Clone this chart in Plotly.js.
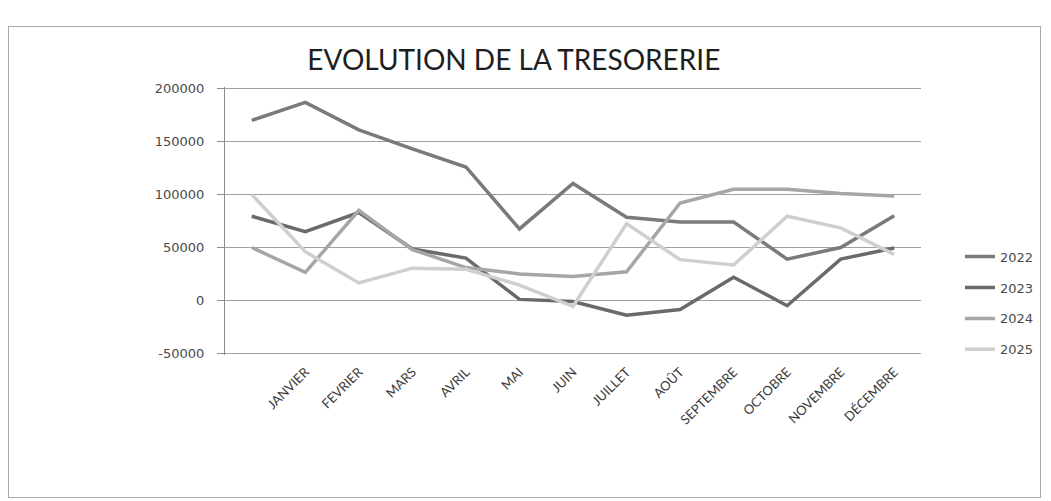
<!DOCTYPE html>
<html>
<head>
<meta charset="utf-8">
<script src="https://cdn.plot.ly/plotly-3.0.1.min.js"></script>
<style>
  html, body { margin: 0; padding: 0; background: #ffffff; }
  #wrap { position: relative; width: 1051px; height: 501px; }
  #chart { position: absolute; left: 0; top: 0; width: 1051px; height: 501px; }
  #frame { position: absolute; left: 8px; top: 26px; width: 1031px; height: 470px; border: 1px solid #a8a8a8; pointer-events: none; }
</style>
</head>
<body>
<div id="wrap">
  <div id="chart"></div>
  <div id="frame"></div>
</div>
<script>
// Categories (first category has no label in the source chart)
const categories = [" ", "JANVIER", "FEVRIER", "MARS", "AVRIL", "MAI", "JUIN", "JUILLET", "AOÛT", "SEPTEMBRE", "OCTOBRE", "NOVEMBRE", "DÉCEMBRE"];

// Series values
const values2022 = [170000, 187000, 161000, 143000, 126000, 67500, 110500, 78500, 74000, 74000, 39000, 50000, 80000];
const values2023 = [79500, 65000, 83000, 48500, 40000, 1000, -1000, -14000, -8500, 22000, -5000, 39000, 49500];
const values2024 = [50000, 26500, 85000, 48000, 31000, 25000, 22500, 27000, 92000, 105000, 105000, 101000, 98500];
const values2025 = [100000, 46000, 16500, 30500, 29500, 14500, -5500, 72500, 38500, 33500, 79500, 68500, 43500];

const seriesNames = ["2022", "2023", "2024", "2025"];
const yTickValues = [-50000, 0, 50000, 100000, 150000, 200000];
const yTickLabels = ["-50000", "0", "50000", "100000", "150000", "200000"];

const seriesValues = [values2022, values2023, values2024, values2025];
const seriesColors = ["#7a7a7a", "#6a6a6a", "#a6a6a6", "#cfcfcf"];

const traces = seriesValues.map((vals, i) => ({
  type: "scatter",
  mode: "lines",
  name: seriesNames[i],
  legendgroup: "g" + i,
  x: categories,
  y: vals,
  line: { color: seriesColors[i], width: 3.5 },
  hoverinfo: "x+y+name"
}));

const layout = {
  width: 1051,
  height: 501,
  paper_bgcolor: "rgba(0,0,0,0)",
  plot_bgcolor: "rgba(0,0,0,0)",
  margin: { l: 225, r: 128, t: 87, b: 146, pad: 0 },
  showlegend: true,
  title: {
    text: "EVOLUTION DE LA TRESORERIE",
    font: { family: "Lato, 'Open Sans', sans-serif", size: 28, color: "#1e1e1e" },
    xref: "paper",
    x: 0.415,
    xanchor: "center",
    yref: "container",
    y: 0.88,
    yanchor: "middle"
  },
  xaxis: {
    type: "category",
    categoryorder: "array",
    categoryarray: categories,
    range: [-0.5, 12.5],
    showgrid: false,
    zeroline: false,
    showline: false,
    ticks: "",
    tickangle: -45,
    ticklabelstandoff: 6,
    tickfont: { family: "Lato, 'Open Sans', sans-serif", size: 13, color: "#3a3a3a" },
    fixedrange: true
  },
  xaxis2: {
    type: "linear",
    overlaying: "x",
    anchor: "free",
    position: 0.2,
    range: [-0.5, 12.5],
    tick0: -0.5,
    dtick: 1,
    showticklabels: false,
    ticks: "outside",
    ticklen: 5,
    tickcolor: "#8c8c8c",
    showline: true,
    linecolor: "#8c8c8c",
    linewidth: 1,
    showgrid: false,
    zeroline: false,
    fixedrange: true
  },
  yaxis: {
    range: [-51500, 201500],
    tickvals: yTickValues,
    ticktext: yTickLabels,
    showgrid: true,
    gridcolor: "#a0a0a0",
    gridwidth: 1,
    zeroline: false,
    showline: true,
    linecolor: "#8c8c8c",
    ticks: "outside",
    ticklen: 7,
    tickcolor: "#8c8c8c",
    ticklabelstandoff: 10,
    tickfont: { family: "'DejaVu Sans', sans-serif", size: 13, color: "#4a4a4a" },
    fixedrange: true
  },
  legend: {
    x: 1.056,
    xanchor: "left",
    y: 0.423,
    yanchor: "top",
    orientation: "v",
    tracegroupgap: 11,
    bgcolor: "rgba(0,0,0,0)",
    font: { family: "'DejaVu Sans', sans-serif", size: 13, color: "#4a4a4a" }
  }
};

Plotly.newPlot("chart", traces, layout, { displayModeBar: false, staticPlot: true });
</script>
</body>
</html>
